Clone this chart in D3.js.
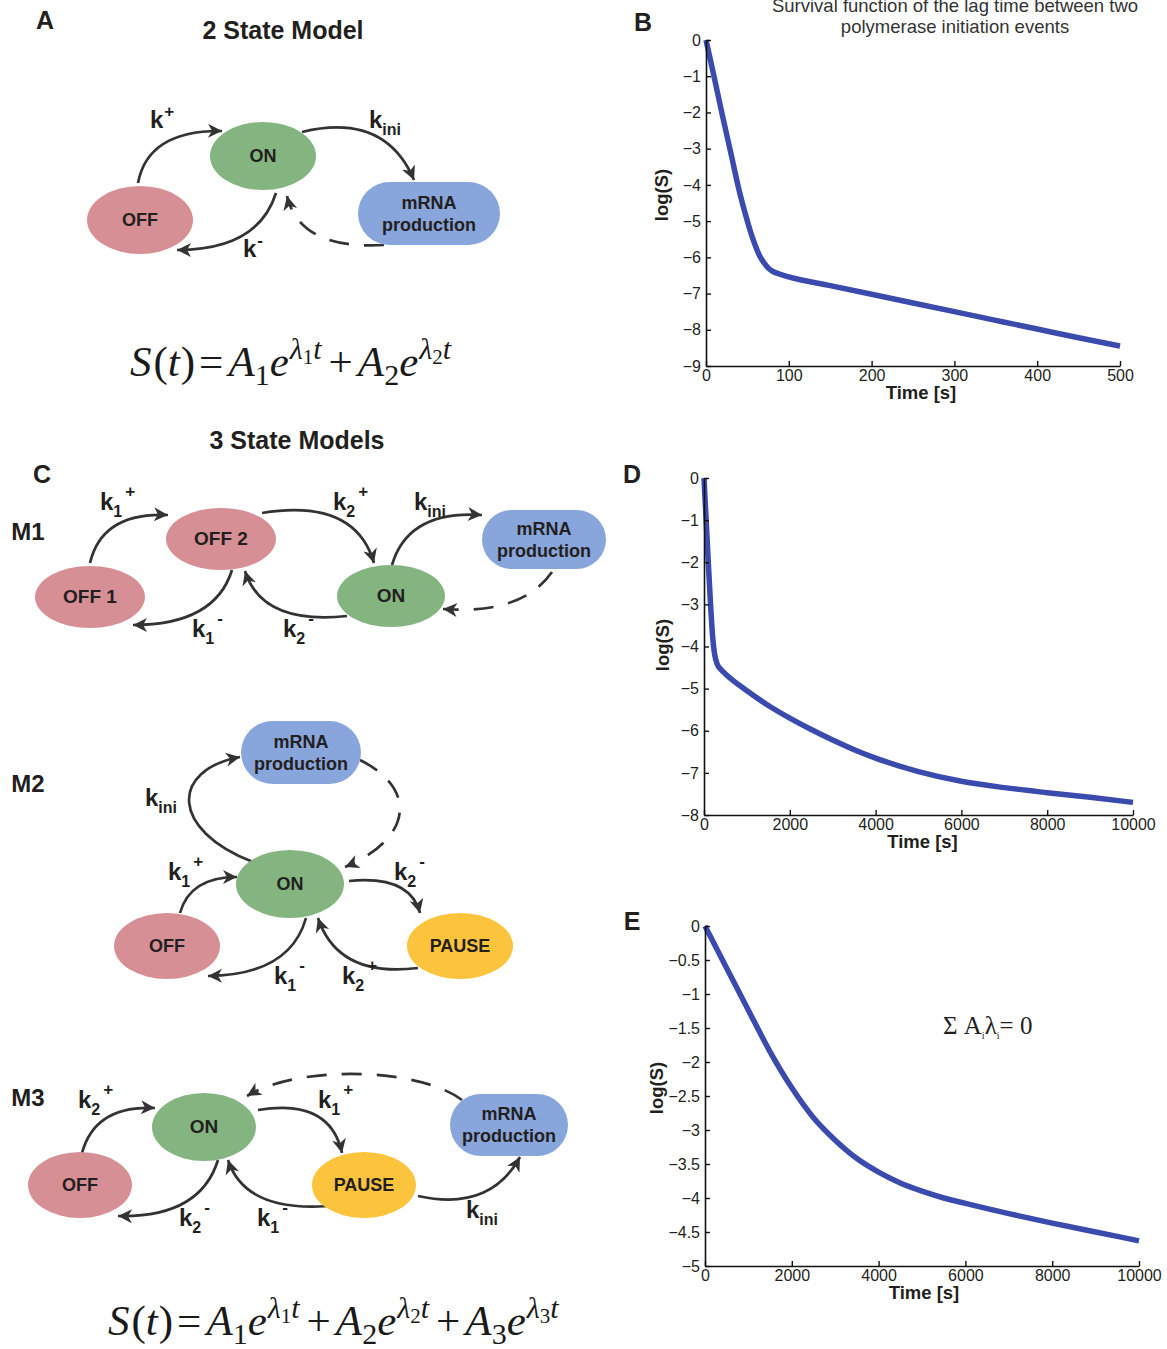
<!DOCTYPE html>
<html>
<head>
<meta charset="utf-8">
<script src="https://cdn.jsdelivr.net/npm/d3@7"></script>
<style>
  body { margin: 0; background: #fff; }
  svg text { font-family: "Liberation Sans", Arial, Helvetica, sans-serif; }
  svg text.serif { font-family: "Liberation Serif", "Times New Roman", serif; }
</style>
</head>
<body>
<svg id="fig" width="1167" height="1349"></svg>
<script>
// ---- Survival curves: log(S) against time ----
// B: 2 state model
const timeB = [0, 10, 20, 30, 40, 50, 55, 60, 65, 70, 75, 80, 90, 100, 150, 200, 250, 300, 350, 400, 450, 500];
const logSB = [0, -1.04, -2.1, -3.12, -4.15, -5.0, -5.38, -5.7, -5.97, -6.15, -6.29, -6.38, -6.47, -6.54, -6.78, -7.02, -7.26, -7.5, -7.74, -7.98, -8.22, -8.45];
// D: 3 state model
const timeD = [0, 50, 100, 150, 200, 250, 300, 400, 500, 1000, 1500, 2000, 2500, 3000, 3500, 4000, 5000, 6000, 7000, 8000, 9000, 10000];
const logSD = [0, -1.0, -2.0, -2.95, -3.75, -4.2, -4.4, -4.55, -4.65, -5.05, -5.4, -5.7, -5.97, -6.22, -6.45, -6.65, -6.97, -7.2, -7.35, -7.47, -7.58, -7.7];
// E: 3 state model with sum A_i lambda_i = 0
const timeE = [0, 500, 1000, 1500, 2000, 2500, 3000, 3500, 4000, 4500, 5000, 5500, 6000, 7000, 8000, 9000, 10000];
const logSE = [0, -0.62, -1.24, -1.85, -2.38, -2.82, -3.15, -3.42, -3.62, -3.78, -3.9, -4.0, -4.08, -4.23, -4.37, -4.5, -4.63];

// tick labels
const xTicksB = [0, 100, 200, 300, 400, 500];
const yTicksB = [0, -1, -2, -3, -4, -5, -6, -7, -8, -9];
const xTicksDE = [0, 2000, 4000, 6000, 8000, 10000];
const yTicksD = [0, -1, -2, -3, -4, -5, -6, -7, -8];
const yTicksE = [0, -0.5, -1, -1.5, -2, -2.5, -3, -3.5, -4, -4.5, -5];

const svg = d3.select("#fig");
const INK = "#231f20";
const CURVE = "#3b4aad";
const fmt = v => String(v).replace("-", "\u2212");

function drawSurvival(c) {
  const x = d3.scaleLinear().domain(c.xDomain).range([c.x0, c.x1]);
  const y = d3.scaleLinear().domain(c.yDomain).range([c.yBottom, c.yTop]);
  const g = svg.append("g");

  const line = d3.line().x(d => x(d[0])).y(d => y(d[1])).curve(d3.curveMonotoneX);
  g.append("path")
    .datum(d3.zip(c.t, c.v))
    .attr("d", line)
    .attr("fill", "none")
    .attr("stroke", CURVE)
    .attr("stroke-width", 5.5);

  const ax = g.append("g")
    .attr("transform", `translate(0,${c.yBottom})`)
    .call(d3.axisBottom(x).tickValues(c.xTicks).tickFormat(fmt).tickSizeInner(-5).tickSizeOuter(0).tickPadding(4));
  const ay = g.append("g")
    .attr("transform", `translate(${c.x0},0)`)
    .call(d3.axisLeft(y).tickValues(c.yTicks).tickFormat(fmt).tickSizeInner(-5).tickSizeOuter(0).tickPadding(5));
  [ax, ay].forEach(a => {
    a.attr("font-size", null).attr("font-family", null);
    a.select(".domain").attr("stroke", "#111").attr("stroke-width", 1.6);
    a.selectAll(".tick line").attr("stroke", "#111").attr("stroke-width", 1.4);
    a.selectAll(".tick text").attr("fill", INK).attr("font-size", 16);
  });

  g.append("text")
    .attr("x", (c.x0 + c.x1) / 2 + c.xLabelShift).attr("y", c.yBottom + 33)
    .attr("text-anchor", "middle").attr("font-weight", "bold").attr("font-size", 18.5).attr("fill", INK)
    .text("Time [s]");
  g.append("text")
    .attr("transform", `translate(${c.yLabelX},${c.yLabelY}) rotate(-90)`)
    .attr("text-anchor", "middle").attr("font-weight", "bold").attr("font-size", 18.5).attr("fill", INK)
    .text("log(S)");
}

drawSurvival({ t: timeB, v: logSB, xDomain: [0, 500], yDomain: [-9, 0], x0: 706, x1: 1120, yTop: 40, yBottom: 366,
  xTicks: xTicksB, yTicks: yTicksB, xLabelShift: 8, yLabelX: 668, yLabelY: 195 });
drawSurvival({ t: timeD, v: logSD, xDomain: [0, 10000], yDomain: [-8, 0], x0: 704, x1: 1133, yTop: 478, yBottom: 815,
  xTicks: xTicksDE, yTicks: yTicksD, xLabelShift: 4, yLabelX: 669, yLabelY: 645 });
drawSurvival({ t: timeE, v: logSE, xDomain: [0, 10000], yDomain: [-5, 0], x0: 705, x1: 1139, yTop: 926, yBottom: 1266,
  xTicks: xTicksDE, yTicks: yTicksE, xLabelShift: 2, yLabelX: 663, yLabelY: 1088 });

// title of B
const titleB = svg.append("text").attr("text-anchor", "middle").attr("font-size", 18.5).attr("fill", "#333");
titleB.append("tspan").attr("x", 955).attr("y", 12).text("Survival function of the lag time between two");
titleB.append("tspan").attr("x", 955).attr("y", 33).text("polymerase initiation events");

// annotation in E
const sig = svg.append("text").attr("class", "serif").attr("x", 943).attr("y", 1034).attr("font-size", 25).attr("fill", INK);
sig.append("tspan").text("\u03A3 A");
sig.append("tspan").attr("font-size", 10).attr("dy", 5).text("i");
sig.append("tspan").attr("dy", -5).text("\u03BB");
sig.append("tspan").attr("font-size", 10).attr("dy", 5).text("i");
sig.append("tspan").attr("dy", -5).text("= 0");

// ---- panel letters and headings ----
[["A", 45, 29], ["B", 643, 31], ["C", 42, 483], ["D", 632, 483], ["E", 632, 930]].forEach(([s, x, y]) =>
  svg.append("text").attr("x", x).attr("y", y).attr("text-anchor", "middle").attr("font-weight", "bold")
    .attr("font-size", 25).attr("fill", INK).text(s));
[["2 State Model", 283, 39], ["3 State Models", 297, 449]].forEach(([s, x, y]) =>
  svg.append("text").attr("x", x).attr("y", y).attr("text-anchor", "middle").attr("font-weight", "bold")
    .attr("font-size", 25).attr("fill", INK).text(s));
[["M1", 28, 540], ["M2", 28, 792], ["M3", 28, 1106]].forEach(([s, x, y]) =>
  svg.append("text").attr("x", x).attr("y", y).attr("text-anchor", "middle").attr("font-weight", "bold")
    .attr("font-size", 24).attr("fill", INK).text(s));

// ---- state diagrams ----
const COL = { OFF: "#d78f96", ON: "#84b47f", MRNA: "#89a6dc", PAUSE: "#fcc43c" };
const ARROW = "#333";

const defs = svg.append("defs");
defs.append("marker").attr("id", "head")
  .attr("viewBox", "-15 -8 16 16").attr("refX", 0).attr("refY", 0)
  .attr("markerWidth", 16).attr("markerHeight", 16).attr("markerUnits", "userSpaceOnUse")
  .attr("orient", "auto")
  .append("path").attr("d", "M0,0 L-14,-7 L-10,0 L-14,7 Z").attr("fill", ARROW);

function ellipseNode(cx, cy, rx, ry, fill, label, fs) {
  svg.append("ellipse").attr("cx", cx).attr("cy", cy).attr("rx", rx).attr("ry", ry).attr("fill", fill);
  svg.append("text").attr("x", cx).attr("y", cy + 6).attr("text-anchor", "middle").attr("font-weight", "bold")
    .attr("font-size", fs || 18).attr("fill", INK).text(label);
}
function mrnaNode(x, y, w, h) {
  svg.append("rect").attr("x", x).attr("y", y).attr("width", w).attr("height", h)
    .attr("rx", h / 2).attr("ry", h / 2).attr("fill", COL.MRNA);
  const t = svg.append("text").attr("text-anchor", "middle").attr("font-weight", "bold").attr("font-size", 18).attr("fill", INK);
  t.append("tspan").attr("x", x + w / 2).attr("y", y + h / 2 - 5).text("mRNA");
  t.append("tspan").attr("x", x + w / 2).attr("y", y + h / 2 + 17).text("production");
}
function arrow(d, dashed) {
  const p = svg.append("path").attr("d", d).attr("fill", "none").attr("stroke", ARROW)
    .attr("stroke-width", 2.7).attr("marker-end", "url(#head)");
  if (dashed) p.attr("stroke-dasharray", "20,15");
}
const Q = (a, c, b) => `M${a[0]},${a[1]} Q${c[0]},${c[1]} ${b[0]},${b[1]}`;
const C = (a, c1, c2, b) => `M${a[0]},${a[1]} C${c1[0]},${c1[1]} ${c2[0]},${c2[1]} ${b[0]},${b[1]}`;

// rate label: k with optional subscript and superscript
function rate(x, y, sub, sup) {
  const t = svg.append("text").attr("x", x).attr("y", y).attr("font-weight", "bold").attr("font-size", 24).attr("fill", INK);
  t.append("tspan").text("k");
  if (sub) t.append("tspan").attr("font-size", 16).attr("dy", 7).text(sub);
  if (sup) t.append("tspan").attr("font-size", 17).attr("dx", sub ? 3 : 1).attr("dy", sub ? -20 : -11).text(sup);
}

// A: 2 state model
arrow(Q([138, 183], [148, 130], [222, 131]));
arrow(Q([302, 132], [385, 112], [414, 180]));
arrow(Q([276, 193], [258, 250], [177, 250]));
arrow(Q([384, 245], [300, 250], [287, 196]), true);
ellipseNode(140, 220, 53, 34, COL.OFF, "OFF");
ellipseNode(263, 156, 53, 34, COL.ON, "ON");
mrnaNode(358, 182, 142, 63);
rate(150, 128, null, "+");
rate(369, 128, "ini", null);
rate(243, 257, null, "-");

// M1
arrow(Q([90, 563], [102, 512], [168, 515]));
arrow(Q([262, 513], [355, 498], [374, 563]));
arrow(Q([392, 565], [408, 510], [482, 515]));
arrow(Q([232, 570], [215, 625], [133, 625]));
arrow(Q([347, 616], [262, 625], [245, 571]));
arrow(Q([552, 572], [522, 615], [443, 609]), true);
ellipseNode(90, 597, 55, 31, COL.OFF, "OFF 1", 19);
ellipseNode(221, 539, 55, 31, COL.OFF, "OFF 2", 19);
ellipseNode(391, 596, 54, 31, COL.ON, "ON", 19);
mrnaNode(482, 510, 124, 59);
rate(100, 510, "1", "+");
rate(333, 510, "2", "+");
rate(414, 510, "ini", null);
rate(192, 637, "1", "-");
rate(283, 637, "2", "-");

// M2
arrow(C([253, 862], [170, 830], [170, 770], [240, 757]));
arrow(C([360, 760], [420, 790], [410, 840], [345, 867]), true);
arrow(Q([180, 913], [190, 877], [237, 877]));
arrow(Q([306, 918], [290, 975], [208, 976]));
arrow(Q([349, 881], [410, 875], [420, 913]));
arrow(Q([418, 968], [338, 978], [318, 918]));
mrnaNode(241, 721, 120, 63);
ellipseNode(290, 884, 54, 34, COL.ON, "ON");
ellipseNode(167, 946, 53, 33, COL.OFF, "OFF");
ellipseNode(460, 946, 53, 33, COL.PAUSE, "PAUSE");
rate(145, 806, "ini", null);
rate(168, 880, "1", "+");
rate(394, 880, "2", "-");
rate(274, 984, "1", "-");
rate(342, 984, "2", "+");

// M3
arrow(Q([82, 1153], [95, 1105], [155, 1108]));
arrow(Q([258, 1110], [330, 1098], [342, 1153]));
arrow(Q([218, 1160], [200, 1218], [118, 1216]));
arrow(Q([328, 1206], [245, 1212], [228, 1160]));
arrow(Q([418, 1196], [490, 1212], [520, 1157]));
arrow(C([462, 1100], [420, 1068], [300, 1064], [247, 1096]), true);
ellipseNode(204, 1127, 52, 34, COL.ON, "ON", 19);
ellipseNode(80, 1185, 52, 33, COL.OFF, "OFF");
ellipseNode(364, 1185, 52, 33, COL.PAUSE, "PAUSE");
mrnaNode(450, 1094, 118, 62);
rate(78, 1108, "2", "+");
rate(318, 1108, "1", "+");
rate(179, 1226, "2", "-");
rate(257, 1226, "1", "-");
rate(466, 1218, "ini", null);

// ---- survival function formulas ----
// Each piece carries its own vertical offset; dy is the change from the previous piece.
function formula(x, y, n) {
  const t = svg.append("text").attr("class", "serif").attr("x", x).attr("y", y).attr("font-size", 43).attr("fill", "#1a1a1a");
  let level = 0;
  const put = (s, opt) => {
    const lv = opt.lv || 0;
    const sp = t.append("tspan").attr("dy", lv - level).text(s);
    level = lv;
    if (opt.it) sp.attr("font-style", "italic");
    if (opt.fs) sp.attr("font-size", opt.fs);
    if (opt.dx) sp.attr("dx", opt.dx);
  };
  put("S", { it: true }); put("(", { dx: 2 }); put("t", { it: true }); put(")", { dx: 1 });
  put("=", { dx: 4 });
  for (let i = 1; i <= n; i++) {
    if (i > 1) put("+", { dx: 7 });
    put("A", { it: true, dx: 5 });
    put(String(i), { lv: 9, fs: 30 });
    put("e", { it: true });
    put("\u03BB", { it: true, lv: -17, fs: 30, dx: 1 });
    put(String(i), { lv: -12, fs: 21 });
    put("t", { it: true, lv: -17, fs: 30 });
  }
}
formula(130, 376, 2);
formula(108, 1335, 3);
</script>
</body>
</html>
